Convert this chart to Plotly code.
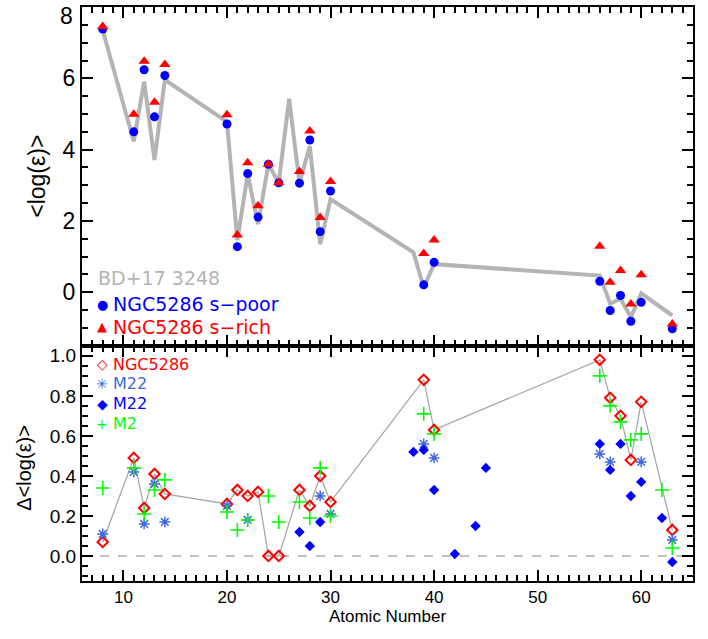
import plotly.graph_objects as go

# abundances <log(eps)> vs atomic number

# BD+17 3248 reference pattern (grey line)
z_bd = [8, 11, 12, 13, 14, 20, 21, 22, 23, 24, 25, 26, 27, 28, 29, 30, 38, 39, 40, 56, 57, 58, 59, 60, 63]
bd = [7.35, 4.23, 5.91, 3.71, 5.96, 4.78, 1.46, 3.31, 1.91, 3.59, 3.07, 5.43, 3.07, 4.10, 1.35, 2.61,
      1.12, 0.14, 0.79, 0.47, -0.32, -0.18, -0.70, -0.03, -0.65]

# NGC5286 s-poor / s-rich
z_ngc = [8, 11, 12, 13, 14, 20, 21, 22, 23, 24, 25, 27, 28, 29, 30, 39, 40, 56, 57, 58, 59, 60, 63]
s_poor = [7.38, 4.50, 6.24, 4.92, 6.08, 4.72, 1.28, 3.33, 2.11, 3.59, 3.07, 3.06, 4.27, 1.70, 2.84,
          0.21, 0.84, 0.31, -0.51, -0.09, -0.81, -0.28, -1.02]
s_rich = [7.45, 4.99, 6.48, 5.33, 6.39, 4.98, 1.61, 3.63, 2.43, 3.59, 3.07, 3.39, 4.52, 2.10, 3.11,
          1.09, 1.47, 1.29, 0.28, 0.61, -0.33, 0.49, -0.89]

# differences s-rich minus s-poor
d_ngc = [0.07, 0.49, 0.24, 0.41, 0.31, 0.26, 0.33, 0.30, 0.32, 0.0, 0.0, 0.33, 0.25, 0.40, 0.27,
         0.88, 0.63, 0.98, 0.79, 0.70, 0.48, 0.77, 0.13]

z_m22a = [8, 11, 12, 13, 14, 20, 22, 29, 30, 39, 40, 56, 57, 60, 63]
d_m22a = [0.11, 0.42, 0.16, 0.36, 0.17, 0.25, 0.18, 0.30, 0.21, 0.56, 0.49, 0.51, 0.47, 0.47, 0.08]

z_m22b = [27, 28, 29, 38, 39, 40, 42, 44, 45, 56, 57, 58, 59, 60, 62, 63]
d_m22b = [0.12, 0.05, 0.17, 0.52, 0.53, 0.33, 0.01, 0.15, 0.44, 0.56, 0.43, 0.56, 0.30, 0.37, 0.19, -0.03]

z_m2 = [8, 11, 12, 13, 14, 20, 21, 22, 24, 25, 27, 28, 29, 30, 39, 40, 56, 57, 58, 59, 60, 62, 63]
d_m2 = [0.34, 0.44, 0.21, 0.33, 0.38, 0.22, 0.13, 0.18, 0.30, 0.17, 0.27, 0.19, 0.44, 0.20,
        0.71, 0.61, 0.90, 0.75, 0.67, 0.58, 0.61, 0.33, 0.04]

FONT = "Liberation Sans"
LFONT = "DejaVu Sans"
GREY = "#b4b4b4"
BLUE = "#0000ff"
RED = "#ff0000"
ROYAL = "#4169e1"
GREEN = "#00ff00"

fig = go.Figure()

# top panel
fig.add_trace(go.Scatter(x=z_bd, y=bd, mode="lines", line=dict(color=GREY, width=4),
                         xaxis="x2", yaxis="y2"))
fig.add_trace(go.Scatter(x=z_ngc, y=s_poor, mode="markers",
                         marker=dict(symbol="circle", size=9, color=BLUE),
                         xaxis="x2", yaxis="y2"))
fig.add_trace(go.Scatter(x=z_ngc, y=s_rich, mode="markers",
                         marker=dict(symbol="triangle-up", size=10, color=RED),
                         xaxis="x2", yaxis="y2"))

# bottom panel
fig.add_trace(go.Scatter(x=z_ngc, y=d_ngc, mode="lines+markers",
                         line=dict(color="#a8a8a8", width=1.3),
                         marker=dict(symbol="diamond-open", size=8, color=RED,
                                     line=dict(width=2, color=RED))))
fig.add_trace(go.Scatter(x=z_m22a, y=d_m22a, mode="markers",
                         marker=dict(symbol="asterisk-open", size=9, color=ROYAL,
                                     line=dict(width=1.5, color=ROYAL))))
fig.add_trace(go.Scatter(x=z_m22b, y=d_m22b, mode="markers",
                         marker=dict(symbol="diamond", size=8, color=BLUE)))
fig.add_trace(go.Scatter(x=z_m2, y=d_m2, mode="markers",
                         marker=dict(symbol="cross-thin-open", size=10, color=GREEN,
                                     line=dict(width=1.6, color=GREEN))))

fig.add_shape(type="line", xref="x domain", yref="y", x0=0, x1=1, y0=0, y1=0,
              line=dict(color="#888888", width=1.2, dash="dash"), layer="below")

axis_common = dict(showline=True, linecolor="black", linewidth=2, mirror="ticks",
                   ticks="inside", ticklen=11, tickwidth=2, tickcolor="black",
                   showgrid=False, zeroline=False)

minor_common = dict(ticklen=6, ticks="inside", tickwidth=1.5, tickcolor="black")

split = 236 / 576

fig.update_layout(
    width=708, height=639,
    margin=dict(l=82, r=15, t=5, b=58),
    paper_bgcolor="white", plot_bgcolor="white",
    showlegend=False,
    font=dict(family=FONT, color="black"),
    xaxis=dict(domain=[0, 1], anchor="y", range=[6, 65], dtick=10,
               minor=dict(dtick=1, **minor_common),
               tickfont=dict(family=FONT, size=17, color="black"),
               title=dict(text="Atomic Number", font=dict(family=FONT, size=17), standoff=4),
               **axis_common),
    xaxis2=dict(domain=[0, 1], anchor="y2", range=[6, 65], dtick=10, showticklabels=False,
                minor=dict(dtick=1, **minor_common),
                **axis_common),
    yaxis=dict(domain=[0, split], anchor="x", range=[-0.125, 1.05], dtick=0.2, tickformat=".1f",
               minor=dict(dtick=0.05, **minor_common),
               tickfont=dict(family=FONT, size=19, color="black"),
               **axis_common),
    yaxis2=dict(domain=[split, 1], anchor="x2", range=[-1.5, 8], dtick=2,
                minor=dict(dtick=0.5, **minor_common),
                tickfont=dict(family=FONT, size=23, color="black"),
                **axis_common),
)


def px_x(p):
    return (p - 81.7) / 611.6


def px_y(p):
    return (581 - p) / 576


# top tick label "8" sits at the very edge of the page, so it is placed just below the tick
fig.add_annotation(text="8", xref="paper", yref="y2", x=px_x(75), y=8, xanchor="right",
                   yanchor="middle", yshift=-9, showarrow=False,
                   font=dict(family=FONT, size=23, color="black"))

# axis titles
fig.add_annotation(text="<log(ε)>", xref="paper", yref="paper", x=px_x(37), y=px_y(175),
                   textangle=-90, xanchor="center", yanchor="middle", showarrow=False,
                   font=dict(family=FONT, size=23, color="black"))
fig.add_annotation(text="Δ<log(ε)>", xref="paper", yref="paper", x=px_x(24), y=px_y(467),
                   textangle=-90, xanchor="center", yanchor="middle", showarrow=False,
                   font=dict(family=FONT, size=20, color="black"))

# legend: symbol glyph + text, positioned in pixels of the plot area
top_leg = [(None, "BD+17 3248", GREY, 276.7),
           ("●", "NGC5286 s−poor", BLUE, 303.3),
           ("▲", "NGC5286 s−rich", RED, 326.0)]
for sym, txt, col, yy in top_leg:
    if sym is None:
        fig.add_annotation(text=txt, xref="paper", yref="paper", x=px_x(95.5), y=px_y(yy),
                           xanchor="left", yanchor="middle", showarrow=False,
                           font=dict(family=LFONT, size=19, color=col))
    else:
        fig.add_annotation(text=sym, xref="paper", yref="paper", x=px_x(102), y=px_y(yy),
                           xanchor="center", yanchor="middle", showarrow=False,
                           font=dict(family=LFONT, size=13, color=col))
        fig.add_annotation(text=txt, xref="paper", yref="paper", x=px_x(111), y=px_y(yy),
                           xanchor="left", yanchor="middle", showarrow=False,
                           font=dict(family=LFONT, size=19, color=col))

bot_leg = [("◇", "NGC5286", RED, 363.3),
           ("✳", "M22", ROYAL, 383.3),
           ("◆", "M22", BLUE, 403.3),
           ("+", "M2", GREEN, 423.3)]
for sym, txt, col, yy in bot_leg:
    fig.add_annotation(text=sym, xref="paper", yref="paper", x=px_x(102), y=px_y(yy),
                       xanchor="center", yanchor="middle", showarrow=False,
                       font=dict(family=LFONT, size=14, color=col))
    fig.add_annotation(text=txt, xref="paper", yref="paper", x=px_x(111), y=px_y(yy),
                       xanchor="left", yanchor="middle", showarrow=False,
                       font=dict(family=LFONT, size=16, color=col))

# the default page has an 8px body margin; remove it so the figure fills the window exactly
fig.write_html("out.html", config={"displayModeBar": False},
               post_script="document.body.style.margin='0';")
